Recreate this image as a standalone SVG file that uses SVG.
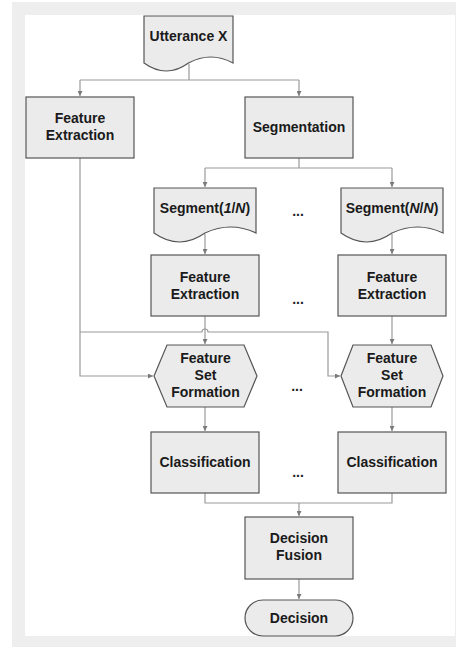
<svg xmlns="http://www.w3.org/2000/svg" width="457" height="648" viewBox="0 0 457 648">
<style>
.bg{fill:#eeeeee}
.panel{fill:#ffffff}
.n{fill:#ebebeb;stroke:#555555;stroke-width:1.2}
.t{font-family:"Liberation Sans",Arial,sans-serif;font-weight:bold;font-size:14px;fill:#1a1a1a;text-anchor:middle}
.c{fill:none;stroke:#9a9a9a;stroke-width:1.2}
.dots{font-family:"Liberation Sans",Arial,sans-serif;font-weight:bold;font-size:14px;fill:#222222;text-anchor:middle}
</style>
<defs>
<marker id="ah" viewBox="0 0 10 10" refX="10" refY="5" markerWidth="5" markerHeight="5" markerUnits="userSpaceOnUse" orient="auto">
<path d="M0,0 L10,5 L0,10 Z" fill="#7a7a7a"/>
</marker>
</defs>
<rect class="bg" x="12" y="2" width="444" height="645"/>
<rect class="panel" x="25" y="15" width="430" height="621"/>

<g id="connectors">
<path class="c" d="M189,64 V80 M80,80 H299"/>
<path class="c" d="M80,80 V96" marker-end="url(#ah)"/>
<path class="c" d="M299,80 V96" marker-end="url(#ah)"/>
<path class="c" d="M299,158 V168 M205,168 H392"/>
<path class="c" d="M205,168 V187" marker-end="url(#ah)"/>
<path class="c" d="M392,168 V187" marker-end="url(#ah)"/>
<path class="c" d="M205,234 V254" marker-end="url(#ah)"/>
<path class="c" d="M392,234 V254" marker-end="url(#ah)"/>
<path class="c" d="M80,158 V376 H153" marker-end="url(#ah)"/>
<path class="c" d="M80,332 H202 A3,3 0 0 1 208,332 H328 V376 H340" marker-end="url(#ah)"/>
<path class="c" d="M205,316 V344" marker-end="url(#ah)"/>
<path class="c" d="M392,316 V344" marker-end="url(#ah)"/>
<path class="c" d="M205,407 V431" marker-end="url(#ah)"/>
<path class="c" d="M392,407 V431" marker-end="url(#ah)"/>
<path class="c" d="M205,493 V503 H392 V493"/>
<path class="c" d="M299,503 V516" marker-end="url(#ah)"/>
<path class="c" d="M299,579 V599" marker-end="url(#ah)"/>
</g>

<g id="utterance">
<path class="n" d="M144,16 H233 V63 Q210.75,51 188.5,63 Q166.25,79 144,63 Z"/>
<text class="t" x="188.5" y="41">Utterance X</text>
</g>

<g id="fe-left">
<rect class="n" x="26" y="97" width="108" height="61"/>
<text class="t" x="80" y="123">Feature</text>
<text class="t" x="80" y="140">Extraction</text>
</g>

<g id="segmentation">
<rect class="n" x="245" y="97" width="108" height="61"/>
<text class="t" x="299" y="132">Segmentation</text>
</g>

<g id="segment-1">
<path class="n" d="M154,188 H256 V233 Q230.5,221 205,233 Q179.5,251 154,233 Z"/>
<text class="t" x="205" y="213">Segment(<tspan font-style="italic">1</tspan>/<tspan font-style="italic">N</tspan>)</text>
</g>

<g id="segment-n">
<path class="n" d="M341,188 H443 V233 Q417.5,221 392,233 Q366.5,251 341,233 Z"/>
<text class="t" x="392" y="213">Segment(<tspan font-style="italic">N</tspan>/<tspan font-style="italic">N</tspan>)</text>
</g>

<g id="fe-1">
<rect class="n" x="151" y="255" width="108" height="61"/>
<text class="t" x="205" y="282">Feature</text>
<text class="t" x="205" y="299">Extraction</text>
</g>

<g id="fe-n">
<rect class="n" x="338" y="255" width="108" height="61"/>
<text class="t" x="392" y="282">Feature</text>
<text class="t" x="392" y="299">Extraction</text>
</g>

<g id="fsf-1">
<polygon class="n" points="154,376 167,345 244,345 257,376 244,407 167,407"/>
<text class="t" x="205.5" y="363">Feature</text>
<text class="t" x="205.5" y="380">Set</text>
<text class="t" x="205.5" y="397">Formation</text>
</g>

<g id="fsf-n">
<polygon class="n" points="341,376 353,345 431,345 443,376 431,407 353,407"/>
<text class="t" x="392" y="363">Feature</text>
<text class="t" x="392" y="380">Set</text>
<text class="t" x="392" y="397">Formation</text>
</g>

<g id="class-1">
<rect class="n" x="151" y="432" width="108" height="61"/>
<text class="t" x="205" y="467">Classification</text>
</g>

<g id="class-n">
<rect class="n" x="338" y="432" width="108" height="61"/>
<text class="t" x="392" y="467">Classification</text>
</g>

<g id="fusion">
<rect class="n" x="245" y="517" width="108" height="62"/>
<text class="t" x="299" y="543">Decision</text>
<text class="t" x="299" y="560">Fusion</text>
</g>

<g id="decision">
<rect class="n" x="245" y="600" width="108" height="36" rx="18" ry="18"/>
<text class="t" x="299" y="623">Decision</text>
</g>

<g id="ellipses">
<text class="dots" x="298" y="216">...</text>
<text class="dots" x="298" y="304">...</text>
<text class="dots" x="297" y="391">...</text>
<text class="dots" x="298" y="477">...</text>
</g>
</svg>
